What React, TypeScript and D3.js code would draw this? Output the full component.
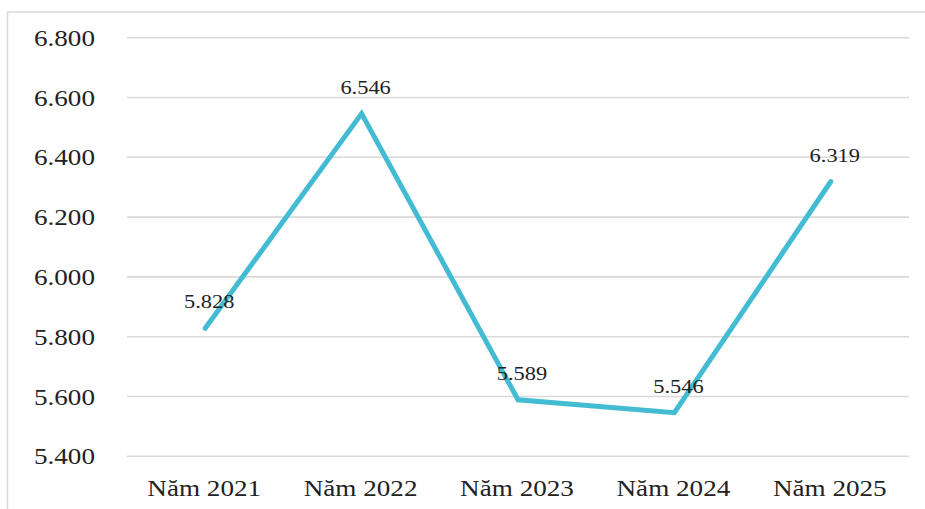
import React from 'react';
import * as d3 from 'd3';

const years = ['Năm 2021', 'Năm 2022', 'Năm 2023', 'Năm 2024', 'Năm 2025'];
const values = [5.828, 6.546, 5.589, 5.546, 6.319];
const yTicks = [5.4, 5.6, 5.8, 6.0, 6.2, 6.4, 6.6, 6.8];

const W = 925, H = 509;
const SX = 1.18; // the picture is stretched sideways a little
const font = "'Liberation Serif', 'Times New Roman', Times, 'DejaVu Serif', serif";

export default function App() {
    const x = d3.scaleBand<string>().domain(years).range([127, 909]).padding(0);
    const y = d3.scaleLinear().domain([5.4, 6.8]).range([456.3, 37.7]);
    const fmt = d3.format('.3f');

    const cx = (d: string) => (x(d) as number) + x.bandwidth() / 2;

    const line = d3.line<number>()
        .x((d, i) => cx(years[i]))
        .y(d => y(d));

    return (
        <svg width={W} height={H} style={{ position: 'absolute', left: 0, top: 0, background: '#fff', fontFamily: font }}>
            <rect x={7.5} y={12} width={W + 10} height={H + 10} fill="#fff" stroke="#d9d9d9" strokeWidth={1.5} />
            {yTicks.map(t => (
                <g key={t}>
                    <line x1={127} x2={909} y1={y(t)} y2={y(t)} stroke="#d9d9d9" strokeWidth={1.6} />
                    <g transform={`translate(95,${y(t) + 8}) scale(${SX},1)`}>
                        <text textAnchor="end" style={{ fontFamily: font }} fontSize={23} fill="#222">{fmt(t)}</text>
                    </g>
                </g>
            ))}
            {years.map(d => (
                <g key={d} transform={`translate(${cx(d) - 1},496) scale(${SX},1)`}>
                    <text textAnchor="middle" style={{ fontFamily: font }} fontSize={23} fill="#222">{d}</text>
                </g>
            ))}
            <path d={line(values) || ''} fill="none" stroke="#43bcd3" strokeWidth={5} strokeLinejoin="miter" strokeLinecap="round" />
            {values.map((v, i) => (
                <g key={i} transform={`translate(${cx(years[i]) + 4},${y(v) - 20}) scale(${SX},1)`}>
                    <text textAnchor="middle" style={{ fontFamily: font }} fontSize={19} fill="#222">{fmt(v)}</text>
                </g>
            ))}
        </svg>
    );
}
